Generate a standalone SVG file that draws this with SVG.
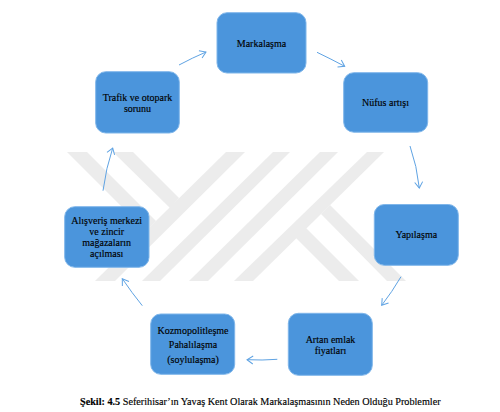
<svg xmlns="http://www.w3.org/2000/svg" width="500" height="412" viewBox="0 0 500 412">
<style>
.bg{fill:#fff}
.wm{fill:#ececec}
.n{fill:#4b95dc;stroke:#7fb6ea;stroke-width:1}
text{font-family:"Liberation Serif","Times New Roman",serif;font-size:10px;fill:#000;stroke:#000;stroke-width:0.15;text-anchor:middle}
.c{fill:none;stroke:#5fa3e3;stroke-width:1;marker-end:url(#a)}
.cap{font-size:10.2px;text-anchor:start}
</style>
<defs>
<marker id="a" markerUnits="userSpaceOnUse" markerWidth="12" markerHeight="12" refX="9" refY="6" orient="auto">
<path d="M3 2L9 6L3 10" fill="none" stroke="#5fa3e3" stroke-width="1"/>
</marker>
</defs>
<rect class="bg" width="500" height="412"/>
<g id="watermark">
<polygon class="wm" points="67,152 87,152 156,221 146,231"/>
<polygon class="wm" points="113,152 133,152 179,198 170,208"/>
<polygon class="wm" points="226,152 245,152 115,281 95,281"/>
<polygon class="wm" points="273,152 290,152 160,281 142,281"/>
<polygon class="wm" points="320,152 338,152 208,281 189,281"/>
<polygon class="wm" points="367,152 384,152 253,281 234,281"/>
<polygon class="wm" points="330,205 406,281 387,281 321,214"/>
<polygon class="wm" points="306,228 359,281 339,281 296,238"/>
</g>
<g id="connectors">
<path class="c" d="M179 65Q192 58 206 52"/>
<path class="c" d="M317 52.300Q331 59 344.700 66.300"/>
<path class="c" d="M410 146Q417 166 419.300 188"/>
<path class="c" d="M401 276.700Q392 292 381.700 305.300"/>
<path class="c" d="M277.300 359.300Q262 360.500 247 359.700"/>
<path class="c" d="M142.300 305.700Q132 293 122.300 278.700"/>
<path class="c" d="M103 190.700Q106 168 112.700 148"/>
</g>
<g id="node-markalasma"><rect class="n" x="217" y="12.700" width="89" height="60.300" rx="10"/><text x="261.500" y="46.500">Markalaşma</text></g>
<g id="node-nufus"><rect class="n" x="343.700" y="72.700" width="84" height="59.500" rx="10"/><text x="385.500" y="106">Nüfus artışı</text></g>
<g id="node-yapilasma"><rect class="n" x="374.300" y="204.500" width="84" height="60.800" rx="10"/><text x="416.300" y="238">Yapılaşma</text></g>
<g id="node-artan"><rect class="n" x="288.300" y="313.300" width="84" height="62" rx="10"/><text x="330.500" y="342.500">Artan emlak</text><text x="330.500" y="353.500">fiyatları</text></g>
<g id="node-kozmo"><rect class="n" x="150.700" y="314" width="84" height="60.300" rx="10"/><text x="193" y="333.500">Kozmopolitleşme</text><text x="193" y="348">Pahalılaşma</text><text x="193" y="362.500">(soylulaşma)</text></g>
<g id="node-alisveris"><rect class="n" x="64.700" y="206.700" width="84.300" height="60.600" rx="10"/><text x="106.700" y="224">Alışveriş merkezi</text><text x="106.700" y="235">ve zincir</text><text x="106.700" y="246">mağazaların</text><text x="106.700" y="257">açılması</text></g>
<g id="node-trafik"><rect class="n" x="95.700" y="71.700" width="83.600" height="61.300" rx="10"/><text x="137.500" y="100.500">Trafik ve otopark</text><text x="137.500" y="111.500">sorunu</text></g>
<text class="cap" x="80" y="405"><tspan font-weight="bold">Şekil: 4.5</tspan> Seferihisar’ın Yavaş Kent Olarak Markalaşmasının Neden Olduğu Problemler</text>
</svg>
